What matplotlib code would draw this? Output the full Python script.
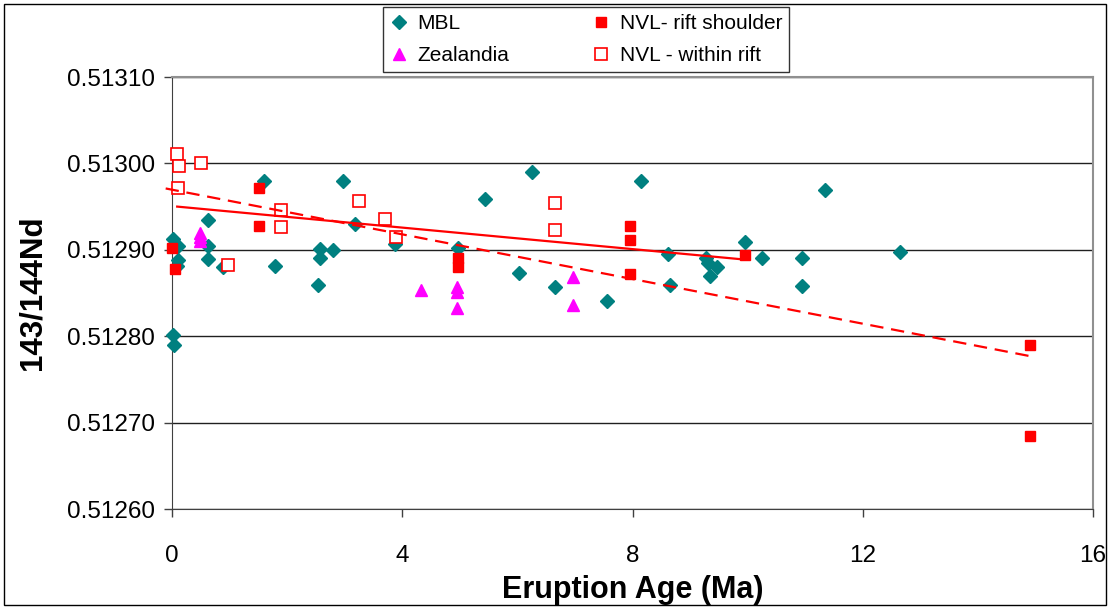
import numpy as np
import matplotlib
matplotlib.use("Agg")
import matplotlib.pyplot as plt
from matplotlib.patches import Rectangle

plt.rcParams['font.family'] = ['Liberation Sans', 'DejaVu Sans']

# ---------------------------------------------------------------------------
# data
# ---------------------------------------------------------------------------
mbl_age = [0.02, 0.11, 0.11, 0.08, 0.02, 0.04, 0.625, 0.625, 0.625, 0.89,
           1.59, 1.79, 2.53, 2.57, 2.57, 2.79, 2.97, 3.18, 3.87, 4.96,
           5.43, 6.02, 6.26, 6.66, 7.56, 8.15, 8.62, 8.66, 9.27, 9.31,
           9.46, 9.35, 9.96, 10.25, 10.94, 10.94, 11.35, 12.64]
mbl_nd = [0.512913, 0.512904, 0.512888, 0.512881, 0.512801, 0.512790, 0.512934, 0.512904, 0.512889, 0.512880,
          0.512980, 0.512881, 0.512859, 0.512901, 0.512890, 0.512900, 0.512980, 0.512930, 0.512907, 0.512902,
          0.512959, 0.512873, 0.512990, 0.512857, 0.512841, 0.512980, 0.512895, 0.512859, 0.512890, 0.512885,
          0.512880, 0.512870, 0.512909, 0.512891, 0.512891, 0.512858, 0.512969, 0.512898]

zea_age = [0.49, 0.49, 0.49, 4.33, 4.95, 4.95, 4.95, 6.96, 6.96]
zea_nd = [0.512920, 0.512915, 0.512910, 0.512853, 0.512857, 0.512851, 0.512833, 0.512868, 0.512836]

shoulder_age = [0.0, 0.05, 1.51, 1.51, 4.96, 4.96, 7.95, 7.95, 7.95, 9.95, 14.91, 14.91]
shoulder_nd = [0.512902, 0.512878, 0.512972, 0.512928, 0.512891, 0.512880,
               0.512928, 0.512911, 0.512872, 0.512894, 0.512790, 0.512684]

rift_age = [0.08, 0.12, 0.50, 0.10, 0.97, 1.90, 1.90, 3.25, 3.70, 3.90, 6.66, 6.66]
rift_nd = [0.513011, 0.512997, 0.513000, 0.512972, 0.512882, 0.512946,
           0.512926, 0.512957, 0.512936, 0.512915, 0.512954, 0.512923]

# trend lines (end points)
trend_solid_age = [0.09, 9.9]
trend_solid_nd = [0.512950, 0.512889]
trend_dash_age = [-0.11, 14.9]
trend_dash_nd = [0.512971, 0.512777]

x_ticks = [0, 4, 8, 12, 16]
y_ticks = [0.51260, 0.51270, 0.51280, 0.51290, 0.51300, 0.51310]

TEAL = '#008080'
RED = '#FF0000'
MAGENTA = '#FF00FF'

fig = plt.figure(figsize=(11.10, 6.07), dpi=100)
ax = fig.add_axes([172 / 1110, 1 - 509 / 607, (1093 - 172) / 1110, (509 - 77) / 607])

ax.plot(mbl_age, mbl_nd, ls='none', marker='D', ms=6.8, color=TEAL, mec=TEAL,
        label='MBL', clip_on=False, zorder=3)
ax.plot(zea_age, zea_nd, ls='none', marker='^', ms=8, color=MAGENTA, mec=MAGENTA,
        label='Zealandia', clip_on=False, zorder=3)
ax.plot(shoulder_age, shoulder_nd, ls='none', marker='s', ms=7.5, color=RED, mec=RED,
        label='NVL- rift shoulder', clip_on=False, zorder=3)
ax.plot(rift_age, rift_nd, ls='none', marker='s', ms=8.2, mfc='white', mec=RED, mew=1.2,
        label='NVL - within rift', clip_on=False, zorder=3)

ax.plot(trend_solid_age, trend_solid_nd, color=RED, lw=1.6, zorder=4)
ax.plot(trend_dash_age, trend_dash_nd, color=RED, lw=1.6, dashes=(6, 3.5),
        zorder=4, clip_on=False)

ax.set_xlim(0, 16)
ax.set_ylim(0.51260, 0.51310)
ax.set_xticks(x_ticks)
ax.set_yticks(y_ticks)
ax.set_yticklabels([f'{v:.5f}' for v in y_ticks])
ax.grid(axis='y', color='#202020', lw=1)
ax.set_axisbelow(True)

ax.tick_params(labelsize=17.5, length=6, width=1, color='#404040')
ax.tick_params(axis='y', pad=6)
ax.tick_params(axis='x', pad=20)
for side in ['left', 'bottom']:
    ax.spines[side].set_color('#404040')
for side in ['top', 'right']:
    ax.spines[side].set_color('#909090')
    ax.spines[side].set_linewidth(1.5)

ax.set_xlabel('Eruption Age (Ma)', fontsize=22, fontweight='bold', labelpad=6)
ax.set_ylabel('143/144Nd', fontsize=22.5, fontweight='bold', labelpad=14)

leg = fig.legend(loc='upper left', bbox_to_anchor=(383 / 1110, 1 - 7 / 607),
                 ncol=2, fontsize=15, frameon=True, fancybox=False,
                 edgecolor='black', handlelength=0.8, handletextpad=0.5,
                 columnspacing=4.0, labelspacing=0.6, borderpad=0.35,
                 borderaxespad=0)
leg.get_frame().set_linewidth(1)

# chart border
fig.add_artist(Rectangle((4 / 1110, 2 / 607), 1102 / 1110, 601 / 607,
                         transform=fig.transFigure, fill=False,
                         edgecolor='black', lw=1))

fig.savefig('out.png', dpi=100)
